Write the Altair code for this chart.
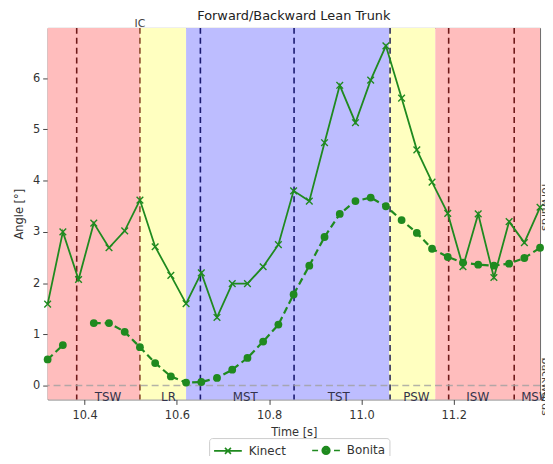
import altair as alt
import pandas as pd

# ---- data ----
times = [10.320, 10.353, 10.387, 10.420, 10.453, 10.487, 10.520, 10.553, 10.587,
         10.620, 10.653, 10.687, 10.720, 10.753, 10.787, 10.820, 10.853, 10.887,
         10.920, 10.953, 10.987, 11.020, 11.053, 11.087, 11.120, 11.153, 11.187,
         11.220, 11.253, 11.287, 11.320, 11.353, 11.387]
kinect = [1.59, 3.00, 2.07, 3.17, 2.69, 3.02, 3.62, 2.71, 2.15, 1.60, 2.20, 1.33,
          1.99, 1.99, 2.32, 2.75, 3.80, 3.60, 4.74, 5.86, 5.13, 5.96, 6.63, 5.61,
          4.60, 3.97, 3.36, 2.32, 3.35, 2.11, 3.20, 2.79, 3.48]
bonita = [0.51, 0.79, None, 1.22, 1.22, 1.05, 0.75, 0.44, 0.18, 0.06, 0.07, 0.15,
          0.31, 0.54, 0.86, 1.19, 1.78, 2.34, 2.90, 3.35, 3.60, 3.67, 3.50, 3.23,
          2.98, 2.67, 2.51, 2.40, 2.36, 2.34, 2.38, 2.49, 2.69]

region_start = [10.320, 10.520, 10.620, 11.060, 11.160]
region_end = [10.520, 10.620, 11.060, 11.160, 11.387]
region_kind = ["swing", "load", "stance", "load", "swing"]

event_times = [10.383, 10.520, 10.651, 10.854, 11.062, 11.189, 11.331]
event_kind = ["swing", "ic", "stance", "stance", "edge", "swing", "swing"]

phase_names = ["TSW", "LR", "MST", "TST", "PSW", "ISW", "MSW"]
phase_x = [10.451, 10.582, 10.748, 10.951, 11.119, 11.252, 11.378]

side_names = ["forwards", "backwards"]
side_y = [3.48, -0.02]

x_ticks = [10.4, 10.6, 10.8, 11.0, 11.2]
y_ticks = [0, 1, 2, 3, 4, 5, 6]
x_domain = [10.32, 11.387]
y_domain = [-0.27, 6.98]

GREEN = "#1f8a1f"
W, H = 497, 375

# ---- tables ----
kin_df = pd.DataFrame({"t": times, "v": kinect})
seg, s = [], 0
for b in bonita:
    if b is None:
        s += 1
    seg.append(s)
bon_df = pd.DataFrame({"t": times, "v": bonita, "seg": seg}).dropna()
reg_df = pd.DataFrame({"a": region_start, "b": region_end, "k": region_kind})
ev_df = pd.DataFrame({"t": event_times, "k": event_kind})
ph_df = pd.DataFrame({"t": phase_x, "name": phase_names})
ic_df = pd.DataFrame({"t": [10.520], "name": ["IC"]})
zero_df = pd.DataFrame({"y": [0]})
side_df = pd.DataFrame({"v": side_y, "name": side_names})
leg_df = pd.DataFrame({"series": ["Kinect", "Bonita"]})

xs = alt.Scale(domain=x_domain, nice=False, zero=False)
ys = alt.Scale(domain=y_domain, nice=False, zero=False)
XAX = alt.Axis(values=x_ticks, format=".1f", title="Time [s]")
X = alt.X("t:Q", scale=xs, axis=XAX)
Y = alt.Y("v:Q", scale=ys,
          axis=alt.Axis(values=y_ticks, format="d", title="Angle [°]"))

regions = alt.Chart(reg_df).mark_rect(opacity=1).encode(
    x=alt.X("a:Q", scale=xs, axis=XAX),
    x2="b:Q",
    y=alt.value(0), y2=alt.value(H),
    color=alt.Color("k:N", legend=None,
                    scale=alt.Scale(domain=["swing", "load", "stance"],
                                    range=["#ffbdbd", "#ffffc0", "#bdbdff"])),
)

events = alt.Chart(ev_df).mark_rule(strokeDash=[6, 4], strokeWidth=1.6).encode(
    x=alt.X("t:Q", scale=xs),
    color=alt.Color("k:N", legend=None,
                    scale=alt.Scale(domain=["swing", "ic", "stance", "edge"],
                                    range=["#6e1a1a", "#8a4a2a", "#1a1a70", "#2a2a5a"])),
)

zero = alt.Chart(zero_df).mark_rule(strokeDash=[7, 4], strokeWidth=1.5,
                                    color="#a0a0a0", opacity=0.8).encode(
    y=alt.Y("y:Q", scale=ys)
)

kin_line = alt.Chart(kin_df).mark_line(color=GREEN, strokeWidth=1.8).encode(x=X, y=Y)
kin_pts = alt.Chart(kin_df).mark_point(
    shape="M-1,-1L1,1M-1,1L1,-1", filled=False, color=GREEN, size=45, strokeWidth=1.4,
    opacity=1).encode(x=X, y=Y)

bon_line = alt.Chart(bon_df).mark_line(color=GREEN, strokeWidth=2.2,
                                       strokeDash=[7, 4]).encode(x=X, y=Y, detail="seg:N")
bon_pts = alt.Chart(bon_df).mark_circle(color=GREEN, size=62, opacity=1).encode(x=X, y=Y)

phases = alt.Chart(ph_df).mark_text(fontSize=12, baseline="alphabetic", align="center",
                                    color="#33334a", font="DejaVu Sans").encode(
    x=alt.X("t:Q", scale=xs), y=alt.value(H + 2), text="name:N")

ic = alt.Chart(ic_df).mark_text(fontSize=11, baseline="alphabetic", align="center",
                                color="#444", font="DejaVu Sans").encode(
    x=alt.X("t:Q", scale=xs), y=alt.value(-1), text="name:N")

side = alt.Chart(side_df).mark_text(fontSize=11, angle=90, align="center",
                                    baseline="alphabetic", color="#444",
                                    font="DejaVu Sans").encode(
    x=alt.value(W + 2), y=alt.Y("v:Q", scale=ys), text="name:N")


def ring(cx, r):
    return (f"M{cx - r:.2f},0A{r:.2f},{r:.2f},0,1,1,{cx + r:.2f},0"
            f"A{r:.2f},{r:.2f},0,1,1,{cx - r:.2f},0Z")


# legend symbols: line + marker, drawn wider than tall (stroked)
KPATH = "M-1,0L3,0M0.57,-0.43L1.43,0.43M0.57,0.43L1.43,-0.43"
BPATH = "M-1,0L-0.15,0M2.15,0L3,0" + ring(1, 0.55) + ring(1, 0.35) + ring(1, 0.15)

legend_layer = alt.Chart(leg_df).transform_filter("false").mark_point(
    filled=False, color=GREEN, strokeWidth=1.6).encode(
    shape=alt.Shape("series:N",
                    scale=alt.Scale(domain=["Kinect", "Bonita"], range=[KPATH, BPATH]),
                    legend=alt.Legend(orient="none", legendX=163, legendY=414,
                                      direction="horizontal", title=None,
                                      strokeColor="#cccccc", fillColor="white",
                                      padding=4, cornerRadius=3,
                                      symbolSize=196, symbolStrokeWidth=1.6,
                                      symbolStrokeColor=GREEN,
                                      symbolOpacity=1,
                                      labelFontSize=12, labelFont="DejaVu Sans",
                                      labelColor="#333", labelOffset=20,
                                      columnPadding=22))
)

chart = alt.layer(
    regions, events, zero, kin_line, kin_pts, bon_line, bon_pts, phases, ic, side,
    legend_layer
).resolve_scale(color="independent").properties(
    width=W, height=H,
    title=alt.TitleParams("Forward/Backward Lean Trunk", fontSize=13,
                          font="DejaVu Sans", fontWeight="normal", color="#222",
                          offset=-5),
    autosize=alt.AutoSizeParams(type="none"),
    padding={"left": 40, "top": 18, "right": 5, "bottom": 55},
).configure_view(stroke="#666", strokeWidth=1).configure_axis(
    grid=False, domain=False, tickSize=5, tickColor="#444",
    labelFont="DejaVu Sans", labelFontSize=11.5, labelColor="#333",
    titleFont="DejaVu Sans", titleFontSize=11.5, titleColor="#333",
    titleFontWeight="normal",
).configure_axisX(titlePadding=6, labelPadding=5).configure_axisY(
    titlePadding=8, labelPadding=3)

chart.save("out.html", embed_options={"renderer": "svg", "actions": False})
